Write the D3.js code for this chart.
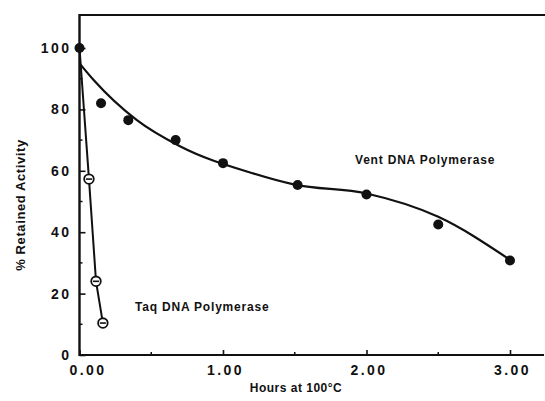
<!DOCTYPE html>
<html>
<head>
<meta charset="utf-8">
<script src="https://cdn.jsdelivr.net/npm/d3@7"></script>
<style>
  body { margin: 0; background: #fff; }
  text { font-family: "Liberation Sans", Arial, sans-serif; fill: #111; }
</style>
</head>
<body>
<div id="chart"></div>
<script>
const width = 545, height = 401;

// Vent DNA Polymerase measured points (hours, % retained)
const ventHours = [0, 0.15, 0.34, 0.67, 1.0, 1.52, 2.0, 2.5, 3.0];
const ventActivity = [100, 82, 76.5, 70, 62.5, 55.4, 52.3, 42.5, 30.8];
// fitted curve drawn through the Vent data
const fitHours = [0, 0.1, 0.4, 0.7, 1.2, 1.5, 2.0, 2.5, 3.0];
const fitActivity = [95, 89.5, 76.5, 68, 59.3, 55.5, 52.6, 45, 31];
// Taq DNA Polymerase
const taqHours = [0, 0.066, 0.115, 0.163];
const taqActivity = [100, 57.3, 24, 10.4];

const xTicks = [0, 1, 2, 3];
const xTickLabels = ["0.00", "1.00", "2.00", "3.00"];
const yTicks = [0, 20, 40, 60, 80, 100];

const x = d3.scaleLinear().domain([0, 3]).range([79.5, 510]);
const y = d3.scaleLinear().domain([0, 100]).range([355, 48]);

const svg = d3.select("#chart")
    .append("svg")
    .attr("width", width)
    .attr("height", height);

// frame: left axis, bottom axis, top rule
svg.append("line")
    .attr("x1", x(0)).attr("x2", 545)
    .attr("y1", 15).attr("y2", 15)
    .attr("stroke", "#111").attr("stroke-width", 2.2);

const xAxis = svg.append("g")
    .attr("transform", `translate(0,${y(0)})`)
    .call(d3.axisBottom(x)
        .tickValues(xTicks)
        .tickSizeInner(-5)
        .tickSizeOuter(0)
        .tickPadding(10)
        .tickFormat((d, i) => xTickLabels[i]));
xAxis.select(".domain").remove();
xAxis.selectAll(".tick text").attr("dx", (d, i) => i === 0 ? 8 : 2);
svg.append("line")
    .attr("x1", x(0)).attr("x2", 544)
    .attr("y1", y(0)).attr("y2", y(0))
    .attr("stroke", "#111").attr("stroke-width", 2.2);
// minor x ticks
svg.append("g").selectAll("line")
    .data([0.5, 1.5, 2.5])
    .join("line")
    .attr("x1", d => x(d)).attr("x2", d => x(d))
    .attr("y1", y(0)).attr("y2", y(0) - 3)
    .attr("stroke", "#111").attr("stroke-width", 1.5);

const yAxis = svg.append("g")
    .attr("transform", `translate(${x(0)},0)`)
    .call(d3.axisLeft(y)
        .tickValues(yTicks)
        .tickSizeInner(-6)
        .tickSizeOuter(0)
        .tickPadding(8)
        .tickFormat(d3.format("d")));
yAxis.select(".domain").remove();
svg.append("line")
    .attr("x1", x(0)).attr("x2", x(0))
    .attr("y1", 14).attr("y2", y(0) + 1)
    .attr("stroke", "#111").attr("stroke-width", 2.4);
svg.append("g").selectAll("line")
    .data([10, 30, 50, 70, 90])
    .join("line")
    .attr("x1", x(0)).attr("x2", x(0) + 3)
    .attr("y1", d => y(d)).attr("y2", d => y(d))
    .attr("stroke", "#111").attr("stroke-width", 1.5);

svg.selectAll(".tick line").attr("stroke", "#111").attr("stroke-width", 1.6);
svg.selectAll(".tick text")
    .style("font-size", "14px")
    .style("font-weight", "bold")
    .style("letter-spacing", "2.5px")
    .attr("fill", "#111");

// axis titles
svg.append("text")
    .attr("transform", `translate(25,205) rotate(-90)`)
    .attr("text-anchor", "middle")
    .style("font-size", "13px")
    .style("font-weight", "bold")
    .style("letter-spacing", "0.6px")
    .text("% Retained Activity");

svg.append("text")
    .attr("x", 296).attr("y", 392)
    .attr("text-anchor", "middle")
    .style("font-size", "12px")
    .style("font-weight", "bold")
    .style("letter-spacing", "0.5px")
    .text("Hours at 100°C");

// series labels
svg.append("text")
    .attr("x", 355).attr("y", 164)
    .style("font-size", "12px")
    .style("font-weight", "bold")
    .style("letter-spacing", "0.8px")
    .text("Vent DNA Polymerase");

svg.append("text")
    .attr("x", 135).attr("y", 311)
    .style("font-size", "12px")
    .style("font-weight", "bold")
    .style("letter-spacing", "0.8px")
    .text("Taq DNA Polymerase");

// Vent fitted curve
const fit = fitHours.map((h, i) => ({ h, v: fitActivity[i] }));
svg.append("path")
    .datum(fit)
    .attr("fill", "none")
    .attr("stroke", "#111")
    .attr("stroke-width", 2.2)
    .attr("d", d3.line()
        .x(d => x(d.h))
        .y(d => y(d.v))
        .curve(d3.curveMonotoneX));

// Taq line
const taq = taqHours.map((h, i) => ({ h, v: taqActivity[i] }));
svg.append("path")
    .datum(taq)
    .attr("fill", "none")
    .attr("stroke", "#111")
    .attr("stroke-width", 2)
    .attr("d", d3.line().x(d => x(d.h)).y(d => y(d.v)));

// Vent points
const vent = ventHours.map((h, i) => ({ h, v: ventActivity[i] }));
svg.append("g").selectAll("circle")
    .data(vent)
    .join("circle")
    .attr("cx", d => x(d.h))
    .attr("cy", d => y(d.v))
    .attr("r", 5)
    .attr("fill", "#111");

// Taq points (open circles with bar)
const taqPts = svg.append("g").selectAll("g")
    .data(taq.slice(1))
    .join("g")
    .attr("transform", d => `translate(${x(d.h)},${y(d.v)})`);
taqPts.append("circle")
    .attr("r", 4.8)
    .attr("fill", "#fff")
    .attr("stroke", "#111")
    .attr("stroke-width", 1.8);
taqPts.append("line")
    .attr("x1", -3).attr("x2", 3)
    .attr("stroke", "#111")
    .attr("stroke-width", 1.6);
</script>
</body>
</html>
